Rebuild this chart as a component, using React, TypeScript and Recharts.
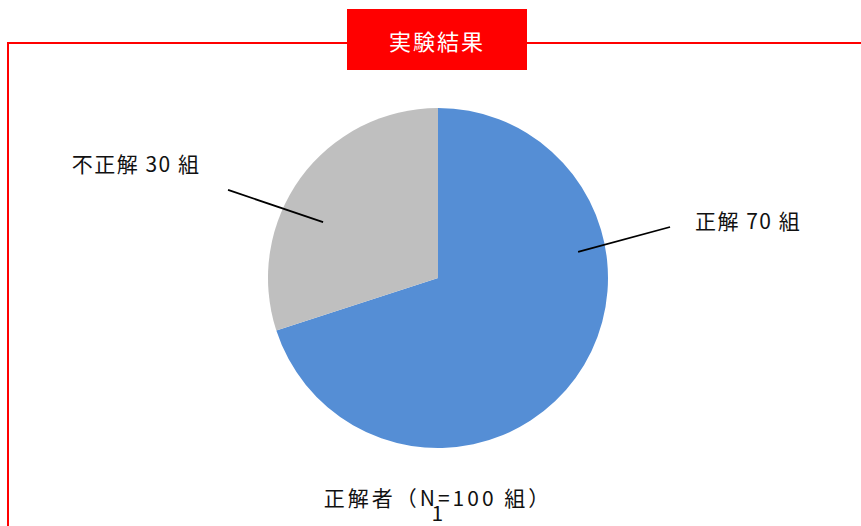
import { PieChart, Pie, Cell } from 'recharts'

const categories = ['正解', '不正解']
const counts = [70, 30]
const unit = '組'
const title = '実験結果'
const footer = '正解者（N=100 組）'
const pageNumber = '1'

const COLORS = ['#558ED5', '#BFBFBF']
const FONT = '"Noto Sans CJK JP", "Noto Sans", sans-serif'

// label placement per slice, in units of the outer radius, relative to the centre
const LABEL_LAYOUT = [
  { from: [0.824, -0.153], to: [1.365, -0.3], text: [1.824, -0.341] },
  { from: [-0.676, -0.329], to: [-1.235, -0.518], text: [-1.776, -0.676] },
]

const data = categories.map((name, i) => ({ name, value: counts[i] }))

function renderLabel(props: any) {
  const { cx, cy, outerRadius, index, name, value } = props
  const l = LABEL_LAYOUT[index]
  const p = (v: number[]) => [cx + v[0] * outerRadius, cy + v[1] * outerRadius]
  const [x1, y1] = p(l.from)
  const [x2, y2] = p(l.to)
  const [tx, ty] = p(l.text)
  return (
    <g key={`label-${index}`}>
      <line x1={x1} y1={y1} x2={x2} y2={y2} stroke="#000" strokeWidth={1.8} />
      <text
        x={tx}
        y={ty}
        textAnchor="middle"
        dominantBaseline="central"
        fill="#111"
        fontSize={21}
        letterSpacing={1.5}
        fontFamily={FONT}
      >
        {`${name} ${value} ${unit}`}
      </text>
    </g>
  )
}

const textStyle = {
  position: 'absolute' as const,
  left: 0,
  width: 876,
  textAlign: 'center' as const,
  fontSize: 21,
  letterSpacing: 1.5,
  lineHeight: '30px',
  color: '#111',
}

export default function App() {
  return (
    <div
      style={{
        position: 'fixed',
        left: 0,
        top: 0,
        width: 861,
        height: 526,
        background: '#fff',
        overflow: 'hidden',
        fontFamily: FONT,
      }}
    >
      {/* red frame */}
      <div style={{ position: 'absolute', left: 7, top: 42, width: 860, height: 2, background: '#ff0000' }} />
      <div style={{ position: 'absolute', left: 7, top: 42, width: 2, height: 500, background: '#ff0000' }} />

      <PieChart
        width={861}
        height={526}
        margin={{ top: 0, right: 0, bottom: 0, left: 0 }}
        style={{ position: 'absolute', left: 0, top: 0 }}
      >
        <Pie
          data={data}
          dataKey="value"
          cx={438}
          cy={278}
          outerRadius={170}
          startAngle={90}
          endAngle={-270}
          stroke="none"
          label={renderLabel}
          labelLine={false}
          isAnimationActive={false}
        >
          {data.map((entry, index) => (
            <Cell key={`cell-${index}`} fill={COLORS[index % COLORS.length]} />
          ))}
        </Pie>
      </PieChart>

      <div
        style={{
          position: 'absolute',
          left: 347,
          top: 9,
          width: 180,
          height: 61,
          background: '#ff0000',
          color: '#fff',
          fontSize: 22,
          letterSpacing: 2,
          display: 'flex',
          alignItems: 'center',
          justifyContent: 'center',
        }}
      >
        {title}
      </div>

      <div style={{ ...textStyle, top: 482, letterSpacing: 3 }}>{footer}</div>
      <div style={{ ...textStyle, top: 497 }}>{pageNumber}</div>
    </div>
  )
}
